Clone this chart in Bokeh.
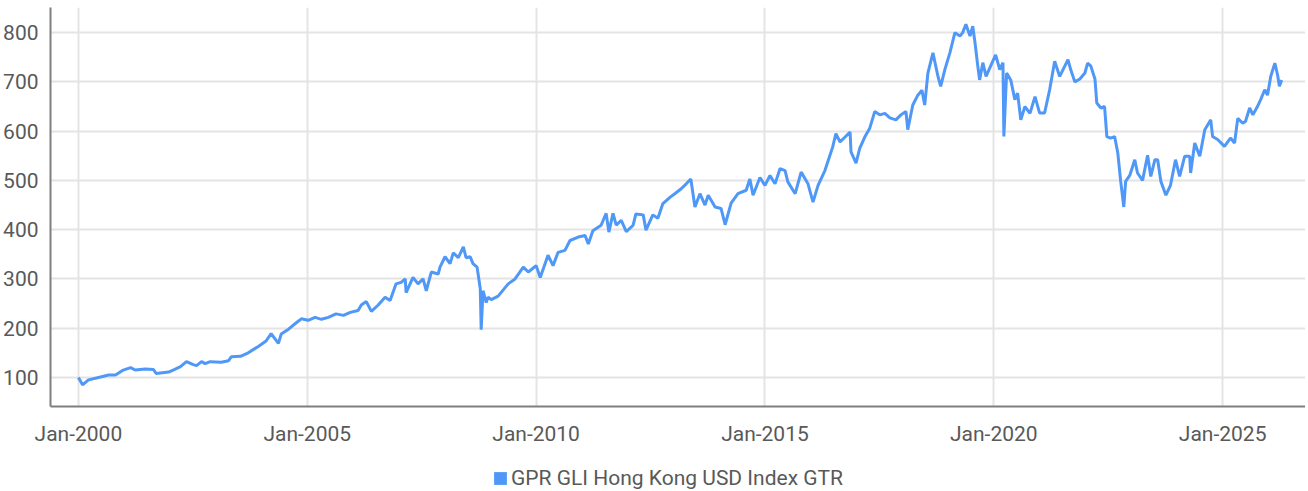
from bokeh.plotting import figure
from bokeh.layouts import column
from bokeh.models import FixedTicker, Legend, LegendItem, Range1d
from bokeh.embed import file_html
from bokeh.resources import INLINE

SERIES_NAME = "GPR GLI Hong Kong USD Index GTR"

years = [
    2000.00, 2000.09, 2000.22, 2000.44, 2000.66, 2000.81, 2000.98, 2001.14, 2001.24, 2001.46,
    2001.64, 2001.70, 2001.97, 2002.07, 2002.23, 2002.36, 2002.51, 2002.58, 2002.69, 2002.77,
    2002.88, 2003.12, 2003.28, 2003.34, 2003.54, 2003.71, 2003.93, 2004.10, 2004.21, 2004.37,
    2004.43, 2004.59, 2004.76, 2004.87, 2005.02, 2005.17, 2005.31, 2005.46, 2005.63, 2005.79,
    2005.94, 2006.11, 2006.18, 2006.29, 2006.40, 2006.55, 2006.70, 2006.81, 2006.94, 2007.05,
    2007.14, 2007.16, 2007.31, 2007.42, 2007.53, 2007.60, 2007.71, 2007.86, 2007.90, 2008.01,
    2008.12, 2008.19, 2008.30, 2008.41, 2008.47, 2008.56, 2008.62, 2008.71, 2008.78, 2008.80,
    2008.84, 2008.91, 2008.95, 2009.02, 2009.17, 2009.39, 2009.54, 2009.72, 2009.83, 2010.00,
    2010.09, 2010.26, 2010.37, 2010.48, 2010.63, 2010.74, 2010.92, 2011.07, 2011.14, 2011.24,
    2011.42, 2011.53, 2011.59, 2011.68, 2011.75, 2011.86, 2011.97, 2012.12, 2012.18, 2012.34,
    2012.40, 2012.55, 2012.66, 2012.77, 2012.93, 2013.03, 2013.17, 2013.28, 2013.38, 2013.47,
    2013.58, 2013.69, 2013.76, 2013.91, 2014.04, 2014.13, 2014.26, 2014.41, 2014.59, 2014.67,
    2014.74, 2014.89, 2015.00, 2015.11, 2015.22, 2015.33, 2015.44, 2015.50, 2015.66, 2015.79,
    2015.94, 2016.05, 2016.16, 2016.31, 2016.42, 2016.48, 2016.55, 2016.64, 2016.75, 2016.86,
    2016.88, 2016.99, 2017.07, 2017.18, 2017.29, 2017.40, 2017.51, 2017.62, 2017.73, 2017.86,
    2017.97, 2018.08, 2018.12, 2018.23, 2018.34, 2018.43, 2018.49, 2018.56, 2018.67, 2018.78,
    2018.84, 2018.93, 2019.04, 2019.15, 2019.26, 2019.32, 2019.39, 2019.48, 2019.54, 2019.59,
    2019.65, 2019.69, 2019.76, 2019.83, 2019.93, 2020.04, 2020.13, 2020.20, 2020.22, 2020.28,
    2020.37, 2020.46, 2020.52, 2020.59, 2020.68, 2020.79, 2020.90, 2021.00, 2021.11, 2021.22,
    2021.33, 2021.44, 2021.55, 2021.62, 2021.68, 2021.77, 2021.88, 2021.99, 2022.05, 2022.12,
    2022.21, 2022.25, 2022.34, 2022.42, 2022.47, 2022.55, 2022.64, 2022.71, 2022.77, 2022.84,
    2022.88, 2022.97, 2023.08, 2023.14, 2023.25, 2023.36, 2023.43, 2023.52, 2023.58, 2023.65,
    2023.76, 2023.86, 2023.97, 2024.06, 2024.17, 2024.28, 2024.30, 2024.39, 2024.50, 2024.61,
    2024.74, 2024.78, 2024.89, 2025.04, 2025.17, 2025.26, 2025.33, 2025.44, 2025.50, 2025.59,
    2025.66, 2025.76, 2025.83, 2025.92, 2025.98, 2026.05, 2026.14, 2026.20, 2026.24, 2026.29,
]

index_values = [
    100, 85, 95, 100, 105, 105, 115, 120, 115, 117,
    116, 108, 111, 115, 122, 132, 126, 124, 132, 128,
    132, 131, 134, 142, 143, 150, 163, 174, 189, 169,
    188, 198, 211, 219, 216, 222, 218, 222, 229, 226,
    232, 236, 247, 254, 234, 247, 263, 256, 290, 293,
    300, 272, 303, 290, 300, 276, 314, 310, 324, 345,
    331, 353, 343, 365, 343, 345, 331, 324, 280, 197,
    276, 252, 263, 258, 265, 290, 300, 324, 314, 327,
    303, 348, 327, 354, 358, 378, 385, 388, 371, 398,
    409, 433, 395, 433, 409, 419, 396, 409, 432, 430,
    399, 430, 423, 453, 466, 473, 483, 493, 503, 446,
    473, 450, 470, 446, 443, 410, 454, 473, 480, 503,
    470, 506, 490, 510, 493, 524, 520, 497, 473, 517,
    493, 456, 490, 520, 551, 568, 595, 578, 588, 598,
    558, 535, 565, 588, 606, 640, 633, 636, 627, 623,
    633, 640, 603, 653, 673, 683, 653, 718, 759, 711,
    691, 725, 759, 800, 793, 800, 817, 793, 813, 779,
    732, 704, 739, 711, 732, 755, 725, 739, 589, 718,
    704, 664, 677, 623, 650, 636, 670, 637, 637, 684,
    742, 711, 732, 745, 725, 700, 706, 718, 738, 732,
    706, 657, 647, 650, 589, 586, 589, 555, 500, 446,
    498, 510, 542, 515, 500, 551, 508, 542, 542, 498,
    470, 490, 542, 508, 549, 549, 515, 576, 549, 603,
    623, 589, 583, 569, 586, 576, 626, 616, 620, 647,
    633, 650, 664, 684, 673, 711, 738, 714, 691, 704,
]

y_ticks = [100, 200, 300, 400, 500, 600, 700, 800]
x_tick_years = [2000, 2005, 2010, 2015, 2020, 2025]
x_tick_labels = ["Jan-2000", "Jan-2005", "Jan-2010", "Jan-2015", "Jan-2020", "Jan-2025"]

LINE_COLOR = "#4f98f8"
TEXT_COLOR = "#595959"
GRID_COLOR = "#e4e4e4"
AXIS_COLOR = "#7f7f7f"
FONT = "Roboto"

p = figure(width=1305, height=448, output_backend="svg", toolbar_location=None,
           x_range=Range1d(1999.39, 2026.81), y_range=Range1d(41, 851),
           min_border_left=50, min_border_right=0, min_border_top=7, min_border_bottom=36)
p.outline_line_color = None
p.background_fill_color = "white"

line_r = p.line(years, index_values, line_color=LINE_COLOR, line_width=3)

for ax in (p.xaxis[0], p.yaxis[0]):
    ax.axis_line_color = AXIS_COLOR
    ax.axis_line_width = 2
    ax.major_tick_line_color = None
    ax.minor_tick_line_color = None
    ax.major_label_text_font = FONT
    ax.major_label_text_font_size = "21px"
    ax.major_label_text_color = TEXT_COLOR

p.yaxis[0].ticker = FixedTicker(ticks=y_ticks)
p.yaxis[0].major_label_standoff = 6
p.xaxis[0].ticker = FixedTicker(ticks=x_tick_years)
p.xaxis[0].major_label_overrides = {y: l for y, l in zip(x_tick_years, x_tick_labels)}
p.xaxis[0].major_label_standoff = 9

p.xgrid.grid_line_color = GRID_COLOR
p.ygrid.grid_line_color = GRID_COLOR
p.xgrid.grid_line_width = 2
p.ygrid.grid_line_width = 2

# Legend strip below the chart (its swatch renderer lies outside the strip's ranges)
lg = figure(width=1305, height=42, output_backend="svg", toolbar_location=None,
            x_range=Range1d(0, 1), y_range=Range1d(0, 1),
            min_border_left=0, min_border_right=0, min_border_top=0, min_border_bottom=0)
lg.axis.visible = False
lg.grid.visible = False
lg.outline_line_color = None
swatch = lg.quad(left=years[:1], right=years[:1], top=index_values[:1], bottom=index_values[:1],
                 fill_color=LINE_COLOR, line_color=None)

legend = Legend(items=[LegendItem(label=SERIES_NAME, renderers=[swatch])],
                location=(442, 0), orientation="horizontal",
                label_text_font=FONT, label_text_font_size="21px", label_text_color=TEXT_COLOR,
                glyph_width=16, glyph_height=16, label_standoff=3,
                border_line_color=None, background_fill_alpha=0,
                margin=0, padding=2)
lg.add_layout(legend, "center")

layout = column(p, lg, spacing=0)
open("out.html", "w").write(file_html(layout, INLINE))
